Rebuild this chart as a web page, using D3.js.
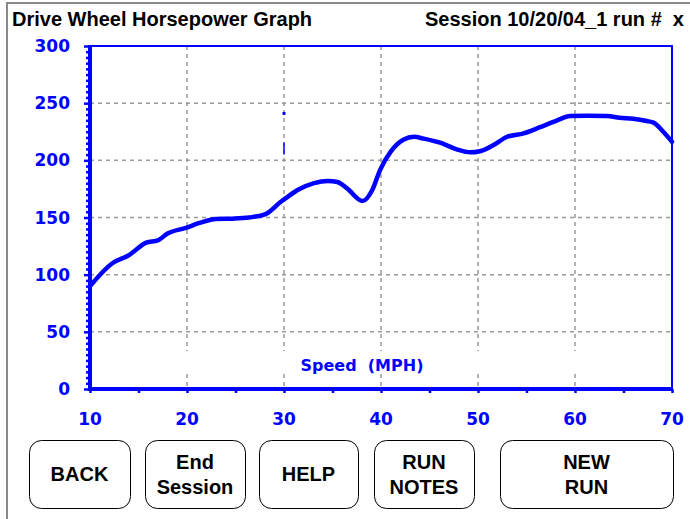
<!DOCTYPE html>
<html>
<head>
<meta charset="utf-8">
<script src="https://cdn.jsdelivr.net/npm/d3@7"></script>
<style>
  html, body { margin: 0; padding: 0; background: #fff; }
  svg { display: block; }
</style>
</head>
<body>
<svg id="chart" width="690" height="519"></svg>
<script>
// Drive wheel horsepower by road speed
const speedMph = [10.1, 12.3, 14.0, 15.8, 17.0, 18.0, 19.9, 21.2, 23.0, 24.7, 26.4, 28.1, 29.7, 30.2,
  31.4, 33.1, 34.5, 35.5, 36.5, 38.1, 39.1, 39.9, 41.0, 42.3, 43.4, 44.4, 46.1, 47.8, 49.2, 50.2,
  51.6, 53.0, 54.7, 56.4, 58.1, 59.5, 61.2, 63.3, 64.6, 66.0, 67.4, 68.1, 69.1, 70.0];
const horsepower = [91, 110, 117, 128, 130, 136, 141, 145, 148.7, 149, 150, 153, 164, 167,
  174, 180, 182, 181, 175.5, 164.4, 174, 191.5, 207.6, 218, 220.6, 219, 215.4, 209.6, 207, 208,
  213.4, 220.6, 223.6, 229, 234.7, 238.8, 239, 238.8, 237.3, 236.4, 234.4, 233, 225, 216.3];

// Stray marker readings plotted at 30 MPH
const markerDot = [{ mph: 30, hp: 241 }];
const markerBar = [{ mph: 30, hpLow: 205, hpHigh: 215.5 }];

const xTicks = [10, 20, 30, 40, 50, 60, 70];
const yTicks = [0, 50, 100, 150, 200, 250, 300];
const xGrid = [20, 30, 40, 50, 60];
const yGrid = [50, 100, 150, 200, 250];

const titleText = "Drive Wheel Horsepower Graph";
const sessionText = "Session 10/20/04_1 run #\u00a0 x";
const xAxisTitle = "Speed\u00a0 (MPH)";
const buttons = [
  { lines: ["BACK"], x0: 29, x1: 130 },
  { lines: ["End", "Session"], x0: 145, x1: 245 },
  { lines: ["HELP"], x0: 259, x1: 358 },
  { lines: ["RUN", "NOTES"], x0: 374, x1: 474 },
  { lines: ["NEW", "RUN"], x0: 500, x1: 673 }
];

const BLUE = "#0000ff";
const svg = d3.select("#chart");

const x = d3.scaleLinear().domain([10, 70]).range([90, 672]);
const y = d3.scaleLinear().domain([0, 300]).range([389, 46]);

// window frame
svg.append("path")
  .attr("d", "M7,519 V3 H690")
  .attr("fill", "none").attr("stroke", "#8a8a8a").attr("stroke-width", 2);

// header
const headFont = "'Liberation Sans', Arial, sans-serif";
svg.append("text").attr("x", 12).attr("y", 26)
  .attr("font-family", headFont).attr("font-weight", "bold").attr("font-size", 20)
  .attr("fill", "#000").text(titleText);
svg.append("text").attr("x", 684).attr("y", 26).attr("text-anchor", "end")
  .attr("font-family", headFont).attr("font-weight", "bold").attr("font-size", 20)
  .attr("fill", "#000").text(sessionText);

// grid
const grid = svg.append("g").attr("stroke", "#9a9a9a").attr("stroke-width", 1.5)
  .attr("stroke-dasharray", "4,4");
grid.selectAll("line.v").data(xGrid).join("line").attr("class", "v")
  .attr("x1", d => x(d)).attr("x2", d => x(d))
  .attr("y1", y(300)).attr("y2", y(0));
grid.selectAll("line.h").data(yGrid).join("line").attr("class", "h")
  .attr("x1", x(10)).attr("x2", x(70))
  .attr("y1", d => y(d)).attr("y2", d => y(d));

// label band across the lower plot
svg.append("rect").attr("x", x(10) + 3).attr("y", 351)
  .attr("width", x(70) - x(10) - 5).attr("height", 21).attr("fill", "#fff");

svg.append("text").attr("x", 362).attr("y", 371).attr("text-anchor", "middle")
  .attr("font-family", "'DejaVu Sans', Verdana, sans-serif").attr("font-weight", "bold")
  .attr("font-size", 16).attr("fill", BLUE).text(xAxisTitle);

// top and right frame of the plot
svg.append("path")
  .attr("d", `M${x(10)},${y(300)} H${x(70)} V${y(0)}`)
  .attr("fill", "none").attr("stroke", BLUE).attr("stroke-width", 2);

// left axis: minor ticks every 5 hp
const yAxis = d3.axisLeft(y).tickValues(d3.range(0, 301, 5)).tickSize(4).tickFormat("");
const gy = svg.append("g").attr("transform", `translate(${x(10)},0)`).call(yAxis);
gy.select(".domain").remove();
gy.selectAll(".tick line").attr("stroke", BLUE).attr("stroke-width", 2.5)
  .attr("x2", d => d % 50 === 0 ? -6 : -4);

// bottom axis: ticks every 5 mph
const xAxis = d3.axisBottom(x).tickValues(d3.range(10, 71, 5)).tickSize(4).tickFormat("");
const gx = svg.append("g").attr("transform", `translate(0,${y(0)})`).call(xAxis);
gx.select(".domain").remove();
gx.selectAll(".tick line").attr("stroke", BLUE).attr("stroke-width", 2.5);

svg.append("line").attr("x1", x(10)).attr("x2", x(10)).attr("y1", y(300) - 1).attr("y2", y(0) + 2)
  .attr("stroke", BLUE).attr("stroke-width", 4);
svg.append("line").attr("x1", x(10) - 1).attr("x2", x(70)).attr("y1", y(0)).attr("y2", y(0))
  .attr("stroke", BLUE).attr("stroke-width", 4);

// tick labels
const labFont = "'DejaVu Sans', Verdana, sans-serif";
svg.append("g").selectAll("text").data(yTicks).join("text")
  .attr("x", 70).attr("y", d => y(d)).attr("dy", "0.36em").attr("text-anchor", "end")
  .attr("font-family", labFont).attr("font-weight", "bold").attr("font-size", 17)
  .attr("fill", BLUE).text(d => d);
svg.append("g").selectAll("text").data(xTicks).join("text")
  .attr("x", d => x(d)).attr("y", 425).attr("text-anchor", "middle")
  .attr("font-family", labFont).attr("font-weight", "bold").attr("font-size", 17)
  .attr("fill", BLUE).text(d => d);

// horsepower curve
const pts = speedMph.map((s, i) => [s, horsepower[i]]);
const line = d3.line().x(d => x(d[0])).y(d => y(d[1])).curve(d3.curveMonotoneX);
svg.append("path").datum(pts).attr("d", line)
  .attr("fill", "none").attr("stroke", BLUE).attr("stroke-width", 4.5)
  .attr("stroke-linejoin", "round").attr("stroke-linecap", "round");

// markers
svg.selectAll("rect.mdot").data(markerDot).join("rect").attr("class", "mdot")
  .attr("x", d => x(d.mph) - 1.5).attr("y", d => y(d.hp) - 1.5)
  .attr("width", 3).attr("height", 3).attr("fill", BLUE);
svg.selectAll("line.mbar").data(markerBar).join("line").attr("class", "mbar")
  .attr("x1", d => x(d.mph)).attr("x2", d => x(d.mph))
  .attr("y1", d => y(d.hpHigh)).attr("y2", d => y(d.hpLow))
  .attr("stroke", BLUE).attr("stroke-width", 1.5);

// buttons
const btnTop = 440, btnBottom = 508;
const bg = svg.append("g").selectAll("g").data(buttons).join("g");
bg.append("rect")
  .attr("x", d => d.x0 + 0.5).attr("y", btnTop + 0.5)
  .attr("width", d => d.x1 - d.x0).attr("height", btnBottom - btnTop)
  .attr("rx", 12).attr("ry", 12)
  .attr("fill", "#fff").attr("stroke", "#000").attr("stroke-width", 1);
bg.each(function(d) {
  const g = d3.select(this);
  const cx = (d.x0 + d.x1) / 2;
  const baselines = d.lines.length === 1 ? [481] : [469, 494];
  d.lines.forEach((t, i) => {
    g.append("text").attr("x", cx).attr("y", baselines[i]).attr("text-anchor", "middle")
      .attr("font-family", headFont).attr("font-weight", "bold").attr("font-size", 20)
      .attr("fill", "#000").text(t);
  });
});
</script>
</body>
</html>
